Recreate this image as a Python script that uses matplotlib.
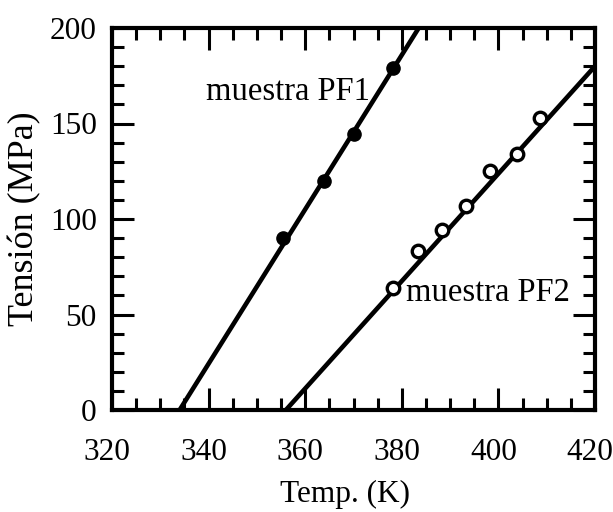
import matplotlib
matplotlib.use("Agg")
import matplotlib.pyplot as plt
import matplotlib.transforms as mtransforms
from matplotlib.ticker import MultipleLocator

# puntos medidos
pf1_temp = [355.4, 363.9, 370.1, 378.2]
pf1_stress = [90, 120, 144.5, 179]
pf2_temp = [378.2, 383.4, 388.3, 393.3, 398.3, 403.9, 408.6]
pf2_stress = [64, 83, 94, 107, 125, 134, 153]

# rectas de ajuste
pf1_fit_temp = [334.0, 383.5]
pf1_fit_stress = [0, 200]
pf2_fit_temp = [356.0, 420.0]
pf2_fit_stress = [0, 180]

x_ticks = [320, 340, 360, 380, 400, 420]
y_ticks = [0, 50, 100, 150, 200]

plt.rcParams["font.family"] = ["Liberation Serif", "DejaVu Serif"]

fig = plt.figure(figsize=(6.13, 5.12), dpi=100)
ax = fig.add_axes([112 / 613, 1 - 410 / 512, 483 / 613, 382 / 512])

ax.plot(pf1_fit_temp, pf1_fit_stress, color="black", lw=3.3, solid_capstyle="butt", zorder=2)
ax.plot(pf2_fit_temp, pf2_fit_stress, color="black", lw=3.3, solid_capstyle="butt", zorder=2)
ax.plot(pf1_temp, pf1_stress, "o", color="black", ms=9.5, zorder=3)
ax.plot(pf2_temp, pf2_stress, "o", mfc="white", mec="black", mew=2.4, ms=9, zorder=3)

ax.text(373.4, 166.5, "muestra PF1", fontsize=23.5, ha="right", va="center")
ax.text(380.8, 61.5, "muestra PF2", fontsize=23.5, ha="left", va="center")

ax.set_xlim(320, 420)
ax.set_ylim(0, 200)
ax.set_xticks(x_ticks)
ax.set_yticks(y_ticks)
ax.xaxis.set_minor_locator(MultipleLocator(5))
ax.yaxis.set_minor_locator(MultipleLocator(10))
ax.tick_params(which="both", direction="in", top=True, right=True, width=2.2, labelsize=22.5)
ax.tick_params(which="major", length=16)
ax.tick_params(which="minor", length=8.5)
ax.tick_params(axis="x", pad=20)
ax.tick_params(axis="y", pad=11)
for s in ax.spines.values():
    s.set_linewidth(3)
    s.set_zorder(4)

# etiquetas del eje x un poco a la izquierda, como en el original
shift = mtransforms.ScaledTranslation(-5 / 100, 0, fig.dpi_scale_trans)
for lab in ax.get_xticklabels():
    lab.set_transform(lab.get_transform() + shift)

ax.set_xlabel("Temp. (K)", fontsize=22.5)
ax.set_ylabel("Tensión (MPa)", fontsize=26)
ax.xaxis.label.set_va("center")
ax.xaxis.set_label_coords(0.482, -0.222)
ax.yaxis.label.set_va("center")
ax.yaxis.set_label_coords(-0.18, 0.5)

fig.savefig("out.png", dpi=100)
